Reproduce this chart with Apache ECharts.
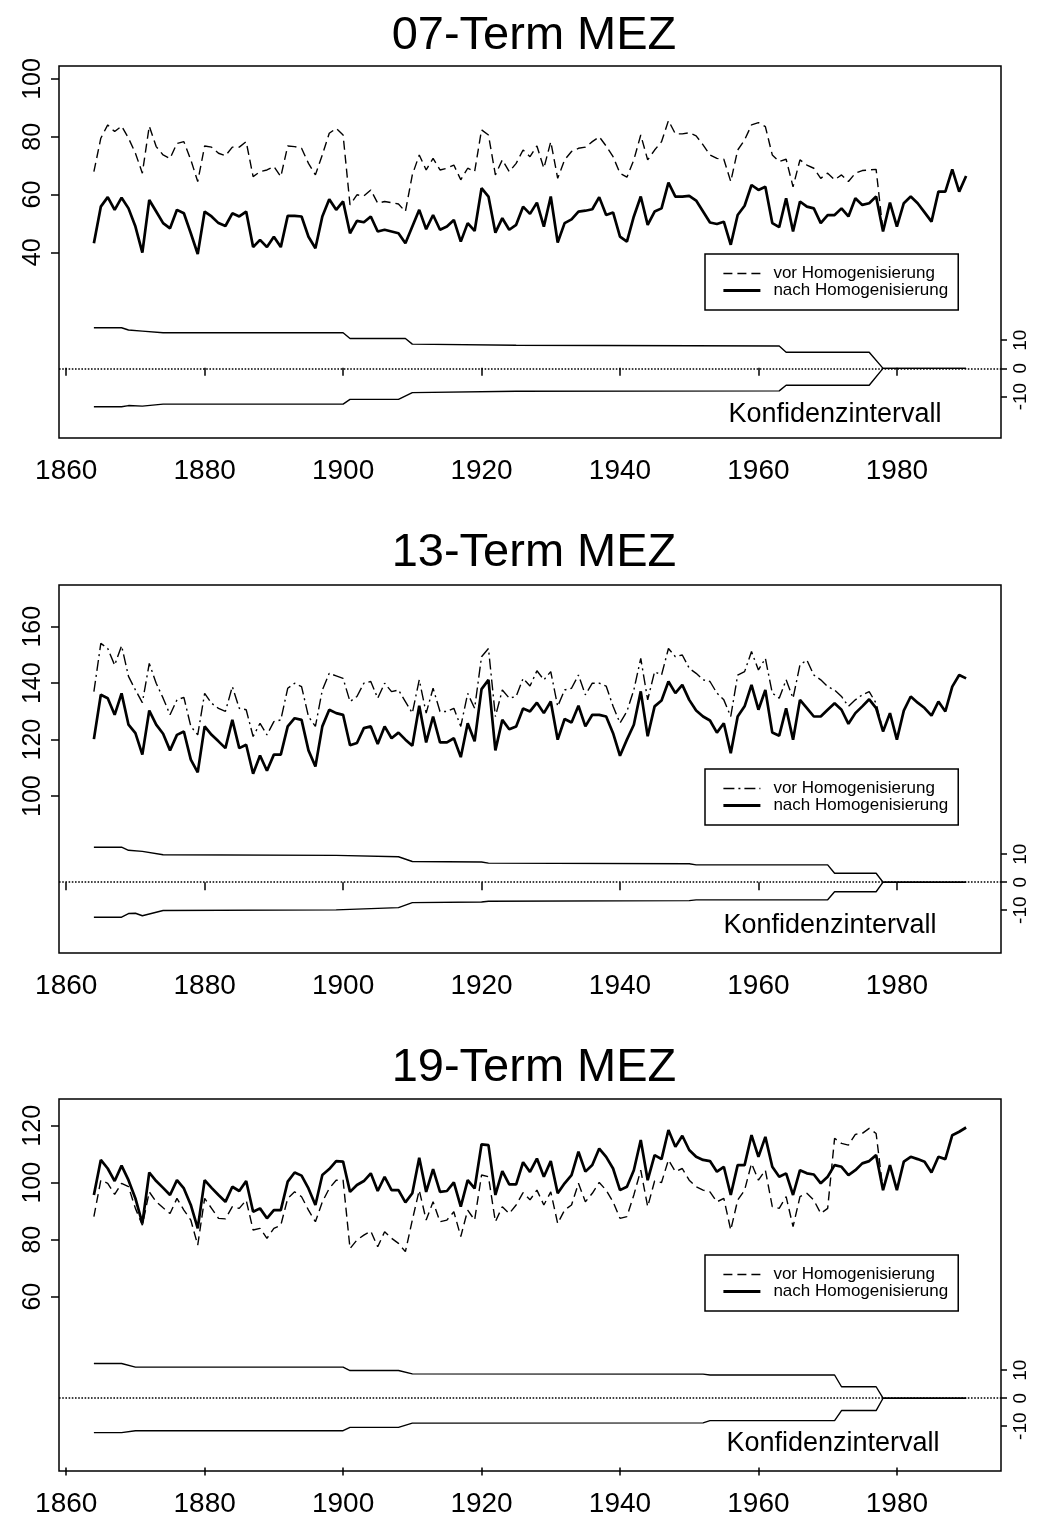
<!DOCTYPE html>
<html><head><meta charset="utf-8">
<script src="https://cdn.jsdelivr.net/npm/echarts@6/dist/echarts.min.js"></script>
<style>html,body{margin:0;padding:0;background:#fff}#c{width:1037px;height:1522px}</style>
</head><body><div id="c"></div>
<script>
// ---------- categories ----------
const YEARS = Array.from({length: 127}, (_, i) => 1864 + i); // 1864..1990
const X_TICKS = [1860, 1880, 1900, 1920, 1940, 1960, 1980];
const CI_TICKS = [-10, 0, 10];
const TITLES = ['07-Term MEZ', '13-Term MEZ', '19-Term MEZ'];
const LEGEND_VOR = 'vor Homogenisierung';
const LEGEND_NACH = 'nach Homogenisierung';
const CI_LABEL = 'Konfidenzintervall';

// ---------- Panel 1 : 07-Term ----------
const p1Ticks = [40, 60, 80, 100];
const p1Nach = [
 43.1,55.8,59.1,54.7,58.9,55.2,48.9,39.9,58.1,54.1,
 50.1,48.3,54.7,53.5,46.6,39.4,54.1,52.4,50.1,49.1,
 53.5,52.4,54.1,41.8,44.3,41.8,45.4,41.8,52.6,52.6,
 52.4,45.4,41.4,52.4,58.4,54.7,57.6,46.6,50.9,50.4,
 52.4,47.2,47.8,47.2,46.6,43.1,48.9,54.7,48.0,52.9,
 47.8,48.9,51.2,43.7,50.1,47.4,62.2,59.3,46.8,51.8,
 47.8,49.5,55.8,53.3,57.2,48.9,59.3,43.4,50.1,51.4,
 54.1,54.4,54.9,59.1,52.9,53.8,45.4,43.7,52.4,59.3,
 49.5,54.1,55.2,64.1,59.3,59.3,59.5,57.9,54.1,50.3,
 49.8,50.6,42.6,52.9,56.1,63.3,61.6,62.7,50.1,48.7,
 58.7,47.2,57.6,55.8,55.2,50.1,52.9,52.9,55.2,52.4,
 58.7,56.4,57.0,59.3,47.2,57.2,48.9,57.0,59.3,57.0,
 53.8,50.6,61.0,61.0,68.7,61.0,66.4];
const p1Vor = [
 67.9,79.5,84.1,81.8,83.7,79.5,74.3,67.4,83.7,76.6,
 73.7,72.5,77.7,78.3,72.0,64.5,76.8,76.4,74.3,73.4,
 76.4,76.4,78.3,66.2,67.9,68.5,69.7,66.2,76.8,76.6,
 76.0,70.8,66.8,73.7,81.2,82.9,80.6,56.4,59.9,59.5,
 61.6,57.0,57.6,57.2,56.7,54.1,66.8,73.7,68.5,72.5,
 68.5,69.1,70.2,65.1,69.1,67.9,82.4,80.6,66.8,72.0,
 67.9,70.8,75.4,73.1,76.8,69.1,78.3,65.6,72.0,74.9,
 76.0,76.4,78.3,80.0,76.8,73.1,67.4,66.0,72.0,80.6,
 72.0,75.4,78.3,85.6,81.0,81.0,81.4,80.3,77.2,73.7,
 72.5,72.2,64.5,75.4,78.9,84.1,84.9,83.5,73.7,71.4,
 72.2,62.7,72.0,70.2,69.1,65.6,67.4,65.1,66.8,64.5,
 67.4,68.3,68.5,68.7,47.2];
const p1CiUpYears = [1864,1868,1869,1871,1874,1900,1901,1909,1910,1925,1963,1964,1976,1978,1990];
const p1CiUp      = [14.4,14.4,13.6,13.2,12.6,12.6,10.6,10.6,8.6,8.2,7.9,5.7,5.7,0,0];
const p1CiLoYears = [1864,1868,1869,1871,1874,1900,1901,1908,1910,1925,1963,1964,1976,1978,1990];
const p1CiLo      = [-13.6,-13.6,-13.2,-13.4,-12.7,-12.7,-11.0,-11.0,-8.6,-8.1,-8.0,-6.0,-6.0,0,0];

// ---------- Panel 2 : 13-Term ----------
const p2Ticks = [100, 120, 140, 160];
const p2Nach = [
 120.2,135.9,134.7,128.8,136.4,125.3,122.3,114.7,130.3,125.3,
 122.1,116.2,121.7,122.9,112.9,108.4,124.7,121.7,119.4,117.0,
 127.0,117.0,118.2,107.9,114.4,109.0,114.7,114.7,124.7,127.6,
 127.0,116.2,110.5,124.7,130.6,129.4,128.8,118.0,118.8,124.1,
 124.7,118.5,124.7,120.5,122.5,120.0,117.8,132.0,119.0,128.2,
 119.0,119.0,120.5,113.8,125.8,119.4,137.9,141.2,116.2,127.0,
 123.7,124.7,131.0,130.0,133.1,129.4,133.5,120.0,127.3,126.1,
 132.0,124.7,128.8,128.8,128.2,122.3,114.3,120.0,125.3,137.1,
 121.2,131.8,133.9,140.6,136.5,139.4,134.1,130.3,128.2,126.8,
 122.5,125.8,115.2,128.2,131.8,139.4,130.6,137.6,122.5,121.4,
 131.1,120.0,134.1,131.2,128.2,128.2,130.6,132.9,130.6,125.6,
 129.4,131.8,134.3,131.2,122.9,129.4,120.0,130.3,135.3,133.1,
 131.2,128.5,133.5,130.0,138.8,142.9,141.7];
const p2Vor = [
 137.0,154.1,152.3,146.4,153.3,142.4,137.6,133.1,147.0,140.0,
 134.7,128.8,134.1,135.0,124.7,121.7,136.4,132.9,131.1,130.0,
 138.8,131.1,130.6,121.1,125.8,121.7,126.4,127.0,138.2,140.0,
 138.8,128.2,124.7,137.6,143.5,142.6,141.7,133.5,135.3,140.0,
 140.6,134.7,140.0,137.0,137.6,133.5,129.4,141.2,129.4,138.2,
 130.0,130.0,131.1,124.7,136.4,131.1,149.4,152.3,128.2,137.6,
 134.7,135.3,141.7,139.0,144.4,141.2,144.1,131.8,137.6,138.2,
 142.9,135.9,140.0,140.0,139.0,131.8,125.9,130.0,137.6,148.8,
 134.1,144.1,142.9,152.3,149.4,150.0,145.3,143.5,141.2,140.6,
 136.5,134.1,128.2,142.9,144.1,151.2,144.7,148.8,136.5,134.7,
 141.2,134.7,146.5,148.2,142.9,141.2,138.8,137.6,135.3,131.8,
 134.1,135.9,137.0,132.9,122.9];
const p2CiUpYears = [1864,1868,1869,1871,1874,1899,1908,1910,1920,1921,1950,1951,1970,1971,1977,1978,1990];
const p2CiUp      = [12.5,12.5,11.4,11.0,9.8,9.6,9.1,7.4,7.2,6.8,6.6,6.2,6.2,3.2,3.2,0,0];
const p2CiLoYears = [1864,1868,1869,1870,1871,1874,1899,1908,1910,1920,1921,1950,1951,1970,1971,1977,1978,1990];
const p2CiLo      = [-12.5,-12.5,-11.2,-11.1,-12.0,-10.1,-9.9,-9.1,-7.3,-7.1,-6.8,-6.6,-6.3,-6.3,-3.4,-3.4,0,0];

// ---------- Panel 3 : 19-Term ----------
const p3Ticks = [60, 80, 100, 120];
const p3Nach = [
 95.7,108.0,105.0,100.6,106.0,100.9,94.5,85.7,103.6,100.6,
 98.2,95.7,100.9,98.0,92.2,84.0,100.9,98.2,95.7,93.3,
 98.6,97.1,100.6,89.8,91.0,87.5,90.4,90.4,100.4,103.6,
 102.5,98.0,92.2,102.7,104.8,107.6,107.4,96.8,99.2,100.6,
 103.3,97.1,102.1,97.4,97.4,93.1,96.3,108.8,96.8,104.8,
 96.8,97.1,100.1,91.6,100.9,98.0,113.5,113.2,95.7,104.1,
 99.4,99.4,107.2,103.8,108.5,102.1,107.6,96.3,99.8,102.7,
 110.9,103.9,106.2,112.0,109.1,105.0,97.4,98.6,104.4,115.0,
 100.9,109.7,108.3,118.5,112.6,116.5,111.5,109.1,108.0,107.6,
 103.9,105.6,95.7,106.2,106.2,116.7,109.1,116.1,105.6,102.1,
 103.3,95.7,104.4,103.3,102.9,99.8,102.1,106.2,105.6,102.7,
 104.4,106.8,107.6,109.7,97.4,106.2,97.4,107.4,109.1,108.3,
 107.4,103.6,109.1,108.3,116.7,117.9,119.4];
const p3Vor = [
 88.1,100.9,99.8,95.9,99.8,98.6,91.0,85.1,96.8,93.3,
 91.2,89.2,94.5,90.4,86.9,78.1,94.5,91.0,87.5,87.3,
 91.6,91.0,93.9,83.4,84.0,80.5,84.0,85.1,94.5,96.8,
 95.1,90.4,86.3,93.3,98.0,100.9,100.9,76.9,79.9,81.6,
 83.0,77.5,82.8,80.5,78.7,75.8,86.9,97.4,86.9,93.3,
 86.3,86.9,89.8,81.1,90.4,86.9,102.7,102.1,86.3,91.6,
 89.2,92.2,96.5,94.0,97.4,92.2,96.8,85.7,90.4,92.2,
 99.8,93.3,96.3,100.1,97.4,93.3,87.5,88.1,95.7,104.4,
 91.6,100.6,100.1,108.0,103.9,105.0,100.9,98.6,97.4,96.8,
 93.3,94.5,83.4,93.9,97.4,106.8,100.9,104.4,91.6,91.0,
 95.1,84.6,95.1,96.3,93.9,89.2,91.0,115.6,113.8,113.2,
 117.0,117.3,119.1,117.3,97.4];
const p3CiUpYears = [1864,1868,1870,1900,1901,1908,1910,1952,1953,1971,1972,1977,1978,1990];
const p3CiUp      = [12.4,12.4,11.1,11.1,9.9,9.9,8.7,8.6,8.3,8.3,4.1,4.1,0,0];
const p3CiLoYears = [1864,1868,1870,1900,1901,1908,1910,1952,1953,1971,1972,1977,1978,1990];
const p3CiLo      = [-12.3,-12.3,-11.6,-11.6,-10.4,-10.4,-8.9,-8.8,-8.0,-8.0,-4.4,-4.4,0,0];

// ---------- layout ----------
const panels = [
  {title: TITLES[0], titleY: 36, top: 66, height: 372, yMin: -24.3, yMax: 104.5, ticks: p1Ticks,
   rMin: -24.7, rMax: 107.2, vor: p1Vor, nach: p1Nach, dash: [9, 5],
   upX: p1CiUpYears, up: p1CiUp, loX: p1CiLoYears, lo: p1CiLo, legendTop: 254, kX: 835, kY: 415},
  {title: TITLES[1], titleY: 553, top: 585, height: 368, yMin: 44.4, yMax: 174.8, ticks: p2Ticks,
   rMin: -25.3, rMax: 106.2, vor: p2Vor, nach: p2Nach, dash: [11, 4, 2, 4],
   upX: p2CiUpYears, up: p2CiUp, loX: p2CiLoYears, lo: p2CiLo, legendTop: 769, kX: 830, kY: 926},
  {title: TITLES[2], titleY: 1068, top: 1099, height: 372, yMin: -1.2, yMax: 129.4, ticks: p3Ticks,
   rMin: -26.0, rMax: 106.9, vor: p3Vor, nach: p3Nach, dash: [9, 5],
   upX: p3CiUpYears, up: p3CiUp, loX: p3CiLoYears, lo: p3CiLo, legendTop: 1255, kX: 833, kY: 1444}
];

const FONT = '"Liberation Sans", Arial, Helvetica, sans-serif';
const BLACK = '#000';
const pairs = (xs, ys) => ys.map((v, i) => [xs[i], v]);

const option = {
  animation: false,
  backgroundColor: '#fff',
  grid: [], xAxis: [], yAxis: [], series: [], legend: [], graphic: []
};

panels.forEach((p, i) => {
  option.grid.push({left: 59, right: 36, top: p.top, height: p.height, show: true,
    borderColor: BLACK, borderWidth: 1.5, backgroundColor: 'transparent', containLabel: false});
  option.xAxis.push({type: 'value', gridIndex: i, min: 1858.96, max: 1995.04,
    axisLine: {show: false}, splitLine: {show: false},
    axisTick: {show: true, inside: false, length: 8, lineStyle: {color: BLACK, width: 1.5}, customValues: X_TICKS},
    axisLabel: {customValues: X_TICKS, formatter: v => String(v), fontFamily: FONT, fontSize: 28, color: BLACK, margin: 19}});
  option.yAxis.push({type: 'value', gridIndex: i, position: 'left', min: p.yMin, max: p.yMax,
    axisLine: {show: false}, splitLine: {show: false},
    axisTick: {show: true, inside: false, length: 8, lineStyle: {color: BLACK, width: 1.5}, customValues: p.ticks},
    axisLabel: {customValues: p.ticks, formatter: v => String(v), rotate: 90, fontFamily: FONT, fontSize: 25, color: BLACK, margin: 13}});
  option.yAxis.push({type: 'value', gridIndex: i, position: 'right', min: p.rMin, max: p.rMax,
    axisLine: {show: false}, splitLine: {show: false},
    axisTick: {show: true, inside: false, length: 6, lineStyle: {color: BLACK, width: 1.5}, customValues: CI_TICKS},
    axisLabel: {customValues: CI_TICKS, formatter: v => String(v), rotate: 90, fontFamily: FONT, fontSize: 19, color: BLACK, margin: 10}});

  const vorName = LEGEND_VOR + '#' + i;
  const nachName = LEGEND_NACH + '#' + i;
  option.series.push({name: vorName, type: 'line', xAxisIndex: i, yAxisIndex: 2 * i,
    data: pairs(YEARS, p.vor), symbol: 'none', z: 3,
    lineStyle: {color: BLACK, width: 1.4, type: p.dash}, itemStyle: {color: BLACK}});
  option.series.push({name: nachName, type: 'line', xAxisIndex: i, yAxisIndex: 2 * i,
    data: pairs(YEARS, p.nach), symbol: 'none', z: 4,
    lineStyle: {color: BLACK, width: 2.7}, itemStyle: {color: BLACK}});
  option.series.push({name: 'ci_up_' + i, type: 'line', xAxisIndex: i, yAxisIndex: 2 * i + 1,
    data: pairs(p.upX, p.up), symbol: 'none', z: 3,
    lineStyle: {color: BLACK, width: 1.4},
    markLine: {silent: true, symbol: ['none', 'none'], label: {show: false},
      lineStyle: {type: 'dotted', color: BLACK, width: 1.6}, data: [{yAxis: 0}]}});
  option.series.push({name: 'ci_lo_' + i, type: 'line', xAxisIndex: i, yAxisIndex: 2 * i + 1,
    data: pairs(p.loX, p.lo), symbol: 'none', z: 3,
    lineStyle: {color: BLACK, width: 1.4}});

  option.legend.push({orient: 'vertical', left: 705, top: p.legendTop,
    padding: [11, 10, 11, 17], itemGap: 0, itemWidth: 37, itemHeight: 14,
    backgroundColor: '#fff', borderColor: BLACK, borderWidth: 1.5, borderRadius: 0,
    selectedMode: false,
    data: [{name: vorName, lineStyle: {width: 1.4}}, {name: nachName, lineStyle: {width: 2.8}}],
    itemStyle: {opacity: 0, borderWidth: 0},
    formatter: n => n.split('#')[0],
    textStyle: {fontFamily: FONT, fontSize: 17, color: BLACK, lineHeight: 14, padding: [0, 0, 0, 8]}});

  option.graphic.push({type: 'text', x: 534, y: p.titleY, silent: true,
    style: {text: p.title, font: '47px ' + FONT, fill: BLACK, textAlign: 'center', textVerticalAlign: 'middle'}});
  option.graphic.push({type: 'text', x: p.kX, y: p.kY, silent: true,
    style: {text: CI_LABEL, font: '27px ' + FONT, fill: BLACK, textAlign: 'center', textVerticalAlign: 'middle'}});
});

const chart = echarts.init(document.getElementById('c'), null, {renderer: 'canvas'});
chart.setOption(option);
</script>
</body></html>
